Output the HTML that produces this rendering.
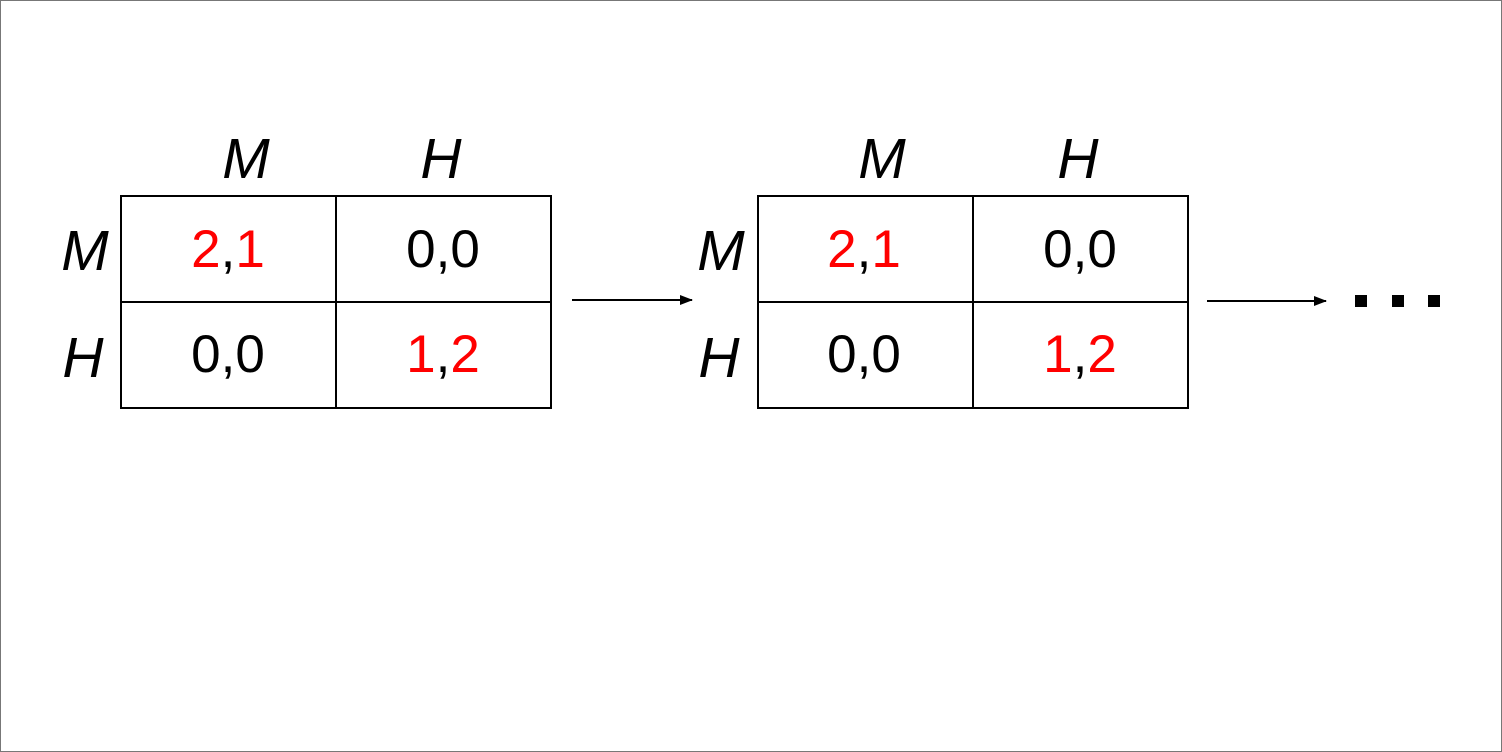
<!DOCTYPE html>
<html><head><meta charset="utf-8"><style>
html,body{margin:0;padding:0;background:#fff}
svg{display:block}
text{font-family:"Liberation Sans",Arial,sans-serif}
</style></head><body>
<svg width="1502" height="752" viewBox="0 0 1502 752" xmlns="http://www.w3.org/2000/svg">
<rect x="0.5" y="0.5" width="1501" height="751" fill="#fff" stroke="#777" stroke-width="1"/>
<defs><marker id="a" markerWidth="13" markerHeight="10" refX="12" refY="5" orient="auto" markerUnits="userSpaceOnUse"><path d="M0,0 L13,5 L0,10 z" fill="#000"/></marker></defs>
<g font-size="53" text-anchor="middle">
 <rect x="121" y="196" width="430" height="212" fill="none" stroke="#000" stroke-width="2"/>
 <line x1="336" y1="196" x2="336" y2="408" stroke="#000" stroke-width="2"/>
 <line x1="121" y1="302" x2="551" y2="302" stroke="#000" stroke-width="2"/>
 <text x="228" y="267"><tspan fill="#f00">2</tspan>,<tspan fill="#f00">1</tspan></text>
 <text x="443" y="267">0,0</text>
 <text x="228" y="372">0,0</text>
 <text x="443" y="372"><tspan fill="#f00">1</tspan>,<tspan fill="#f00">2</tspan></text>
 <rect x="758" y="196" width="430" height="212" fill="none" stroke="#000" stroke-width="2"/>
 <line x1="973" y1="196" x2="973" y2="408" stroke="#000" stroke-width="2"/>
 <line x1="758" y1="302" x2="1188" y2="302" stroke="#000" stroke-width="2"/>
 <text x="864" y="267"><tspan fill="#f00">2</tspan>,<tspan fill="#f00">1</tspan></text>
 <text x="1080" y="267">0,0</text>
 <text x="864" y="372">0,0</text>
 <text x="1080" y="372"><tspan fill="#f00">1</tspan>,<tspan fill="#f00">2</tspan></text>
</g>
<g font-size="57" text-anchor="middle" font-style="italic">
 <text x="246" y="178">M</text>
 <text x="441" y="178">H</text>
 <text x="85" y="270">M</text>
 <text x="83" y="377">H</text>
 <text x="882" y="178">M</text>
 <text x="1078" y="178">H</text>
 <text x="721" y="270">M</text>
 <text x="719" y="377">H</text>
</g>
<line x1="572" y1="300" x2="692" y2="300" stroke="#000" stroke-width="2" marker-end="url(#a)"/>
<line x1="1207" y1="301" x2="1326" y2="301" stroke="#000" stroke-width="2" marker-end="url(#a)"/>
<rect x="1355" y="295" width="12" height="12" fill="#000"/>
<rect x="1392" y="295" width="12" height="12" fill="#000"/>
<rect x="1428" y="295" width="12" height="12" fill="#000"/>
</svg>
</body></html>
